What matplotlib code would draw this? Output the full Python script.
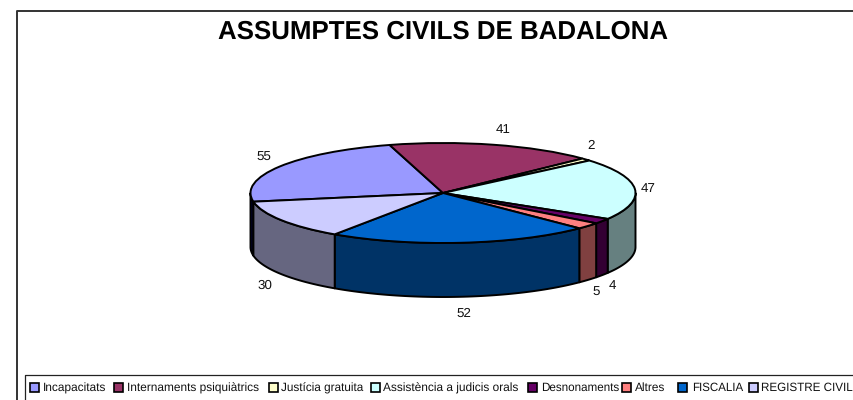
import numpy as np
import matplotlib
matplotlib.use("Agg")
import matplotlib.pyplot as plt
from matplotlib.patches import Polygon, Rectangle
from matplotlib.lines import Line2D

plt.rcParams['font.family'] = ['Liberation Sans', 'DejaVu Sans']
plt.rcParams['text.hinting'] = 'none'

title = "ASSUMPTES CIVILS DE BADALONA"
categories = ["Incapacitats", "Internaments psiquiàtrics", "Justícia gratuita",
              "Assistència a judicis orals", "Desnonaments", "Altres", "FISCALIA", "REGISTRE CIVIL"]
values = [55, 41, 2, 47, 4, 5, 52, 30]
top_colors = ["#9999FF", "#993366", "#FFFFCC", "#CCFFFF", "#660066", "#FF8080", "#0066CC", "#CCCCFF"]
side_colors = ["#000033", "#4D1A33", "#808066", "#668080", "#330033", "#804040", "#003366", "#666680"]
# label anchor positions in image pixels (layout only)
label_px = [(264, 158), (503, 130), (591, 146), (648, 189), (612, 286), (596, 293), (464, 314), (265, 286)]
legend_swatch_x = [30, 114, 269, 371, 528, 622, 678, 749]
legend_text_x = [43, 127, 281, 383, 541, 635, 692, 761]
legend_sizes = [8.6, 8.6, 8.5, 8.6, 8.4, 8.6, 8.3, 8.4]

W, H = 854, 400
CX, CY, RX, RY, DEPTH = 443.0, 193.0, 192.5, 50.0, 54.0
START = 190.0
LW = 1.4

fig = plt.figure(figsize=(W / 100, H / 100), dpi=100, facecolor="white")
ax = fig.add_axes([0, 0, 1, 1])
ax.pie(values, colors=top_colors, startangle=START, counterclock=False, radius=1,
       wedgeprops=dict(edgecolor="black", linewidth=LW, zorder=5))
ax.set_aspect("auto")
ax.set_xlim((0 - CX) / RX, (W - CX) / RX)
ax.set_ylim((CY - H) / RY, CY / RY)
ax.axis("off")

# extruded rim: visible lower half of each slice, derived from the values
d = DEPTH / RY
edges = START - np.cumsum([0] + values) / sum(values) * 360.0
for i in range(len(values)):
    a0, a1 = edges[i], edges[i + 1]
    for shift in (0, -360):
        lo, hi = max(a1 + shift, -180), min(a0 + shift, 0)
        if hi > lo:
            t = np.radians(np.linspace(hi, lo, 60))
            x, y = np.cos(t), np.sin(t)
            pts = np.r_[np.c_[x, y], np.c_[x[::-1], y[::-1] - d]]
            ax.add_patch(Polygon(pts, closed=True, facecolor=side_colors[i],
                                 edgecolor="black", linewidth=LW, zorder=3, joinstyle="round"))

def px(x, y):
    return (x / W, 1 - y / H)

# outer chart frame
fig.add_artist(Line2D([17.5 / W, 17.5 / W, 1], [0, 1 - 11 / H, 1 - 11 / H], color="#333333", lw=1.4))

fig.text(*px(443.5, 32), title, fontsize=18.6, fontweight="bold", ha="center", va="center", color="black")

for v, (lx, ly) in zip(values, label_px):
    fig.text(*px(lx, ly), str(v), fontsize=9.6, ha="center", va="center", color="#111111")

# legend
fig.add_artist(Line2D([25.5 / W, 25.5 / W, 1], [0, 1 - 375 / H, 1 - 375 / H], color="#222222", lw=0.9))
for name, col, xs, xt, fs in zip(categories, top_colors, legend_swatch_x, legend_text_x, legend_sizes):
    fig.add_artist(Rectangle(px(xs, 392), 9 / W, 9 / H, transform=fig.transFigure,
                             facecolor=col, edgecolor="black", linewidth=1.2))
    fig.text(*px(xt, 388), name, fontsize=fs, ha="left", va="center", color="#111111")

fig.savefig("out.png", dpi=100, facecolor="white")
